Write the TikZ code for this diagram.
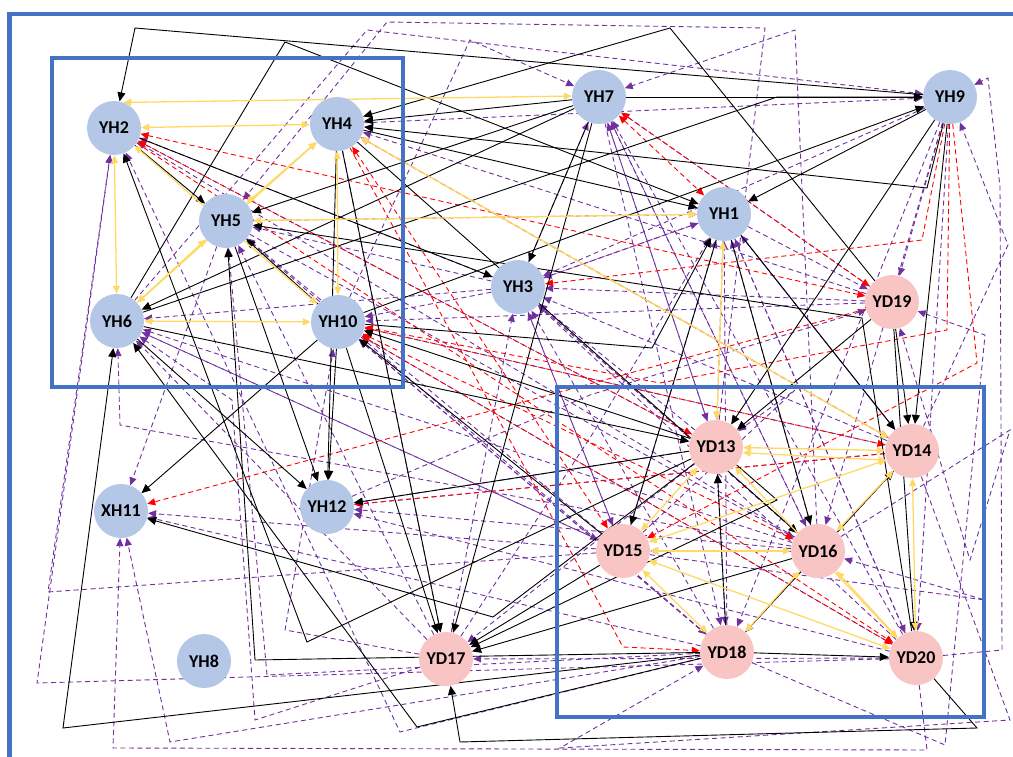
\documentclass[tikz,border=0pt]{standalone}
\usepackage{fontspec}
\setmainfont{Carlito}
\usetikzlibrary{arrows.meta}
\definecolor{nodeblue}{HTML}{B4C7E7}
\definecolor{nodepink}{HTML}{F9C4C4}
\definecolor{framecol}{HTML}{4472C4}
\definecolor{linkyel}{HTML}{FFD966}
\definecolor{linkpur}{HTML}{7030A0}
\definecolor{linkred}{HTML}{FF0000}
\pgfdeclarelayer{edgelayer}
\pgfdeclarelayer{framelayer}
\pgfsetlayers{edgelayer,framelayer,main}
\tikzset{
  hnode/.style={circle,fill=nodeblue,minimum size=54pt,inner sep=0pt,
    font=\bfseries\fontsize{18}{18}\selectfont},
  dnode/.style={hnode,fill=nodepink},
  frame/.style={draw=framecol,line width=4.8pt},
  blk/.style={draw=black,line width=0.9pt,-{Triangle[length=9pt,width=8pt]}},
  yel/.style={draw=linkyel,line width=1.3pt,
    {Triangle[length=8pt,width=7pt]}-{Triangle[length=8pt,width=7pt]}},
  pur/.style={draw=linkpur,line width=0.9pt,dash pattern=on 5pt off 3.5pt,
    -{Triangle[length=8pt,width=7pt]}},
  redl/.style={draw=linkred,line width=0.9pt,dash pattern=on 5pt off 3.5pt,
    -{Triangle[length=8pt,width=7pt]}},
  redb/.style={redl,{Triangle[length=8pt,width=7pt]}-{Triangle[length=8pt,width=7pt]}},
}
\begin{document}
\begin{tikzpicture}[x=1pt,y=-1pt]
\useasboundingbox (0,0) rectangle (1013,757);

% ---- nodes ----
\node[hnode] (YH2)  at (114,128) {YH2};
\node[hnode] (YH4)  at (337,124) {YH4};
\node[hnode] (YH7)  at (599,97)  {YH7};
\node[hnode] (YH9)  at (950,97)  {YH9};
\node[hnode] (YH5)  at (226,221) {YH5};
\node[hnode] (YH1)  at (724,214) {YH1};
\node[hnode] (YH3)  at (518,287) {YH3};
\node[dnode] (YD19) at (892,302) {YD19};
\node[hnode] (YH6)  at (117,321) {YH6};
\node[hnode] (YH10) at (338,322) {YH10};
\node[dnode] (YD13) at (716,447) {YD13};
\node[dnode] (YD14) at (912,451) {YD14};
\node[hnode] (XH11) at (121,511) {XH11};
\node[hnode] (YH12) at (327,507) {YH12};
\node[dnode] (YD15) at (623,551) {YD15};
\node[dnode] (YD16) at (818,551) {YD16};
\node[hnode] (YH8)  at (204,661) {YH8};
\node[dnode] (YD17) at (446,659) {YD17};
\node[dnode] (YD18) at (727,652) {YD18};
\node[dnode] (YD20) at (916,658) {YD20};

% ---- group frames ----
\begin{pgfonlayer}{framelayer}
\draw[frame] (1013,14) -- (9.5,14) -- (9.5,757);
\draw[frame] (52,58) rectangle (403,387);
\draw[frame] (557,387) rectangle (984,717);
\end{pgfonlayer}

\begin{pgfonlayer}{edgelayer}
% ---- purple dashed links ----
\foreach \a/\b in {YD19/YH7,YD13/YH7,YD16/YH7,YD20/YH7,YH3/YH7,
  YD18/YH1,YD16/YH1,YD14/YH1,YD20/YH1,YD15/YH1,YH3/YH1,YH5/YH1,
  YD17/YH3,YD18/YH3,YD16/YH3,YD20/YH3,YD14/YH3,YD13/YH3,YD15/YH3,
  YD19/YH3,YH1/YH3,YH9/YH3,
  YD18/YH5,YD15/YH5,YD17/YH5,YH3/YH5,
  YD13/YH2,YD16/YH2,YH3/YH2,
  YD19/YH4,YD14/YH4,YH4/YH9,
  YD17/YH6,YD15/YH6,YD16/YH6,YH3/YH6,
  YD20/YH10,YD18/YH10,YD14/YH10,YH3/YH10,YD19/YH10,
  YD15/XH11,YD18/XH11,YH5/XH11,
  YD13/YH12,YD16/YH12,YD20/YH12,YD14/YH12,
  YH1/YD13,YH7/YD13,YH9/YD16,YH3/YD15,YH10/YD18,YH9/YD18,YH1/YD20,
  YH5/YD16,YH3/YD16,YH6/YD15,YH9/YD19,YH1/YD19,YH4/YD17,
  YD13/YD17,YD20/YD17,YD16/YD15,YH7/YD18,YH9/YD20,YH7/YD16,
  YD14/YD18,YD13/YD18,YH1/YD14}
  \draw[pur] (\a) -- (\b);
\draw[pur] (YD20) -- (927,750) -- (113,748) -- (XH11);
\draw[pur] (YD18) -- (170,742) -- (XH11);
\draw[pur] (YD20) -- (37,683) -- (YH2);
\draw[pur] (YD15) -- (48,592) -- (YH2);
\draw[pur] (YD18) -- (400,732) -- (YH2);
\draw[pur] (YD13) -- (765,28) -- (387,22) -- (YH5);
\draw[pur] (YD16) -- (795,30) -- (YH7);
\draw[pur] (YH6) -- (367,30) -- (YH9);
\draw[pur] (YH10) -- (470,40) -- (YH7);
\draw[pur] (YD20) -- (1002,650) -- (1000,187) -- (988,78) -- (YH9);
\draw[pur] (YD14) -- (1008,245) -- (YH9);
\draw[pur] (YD16) -- (120,425) -- (YH6);
\draw[pur] (YD18) -- (267,675) -- (YH5);
\draw[pur] (YD17) -- (285,630) -- (YH10);
\draw[pur] (YD14) -- (1010,720) -- (560,748) -- (YD18);
\draw[pur] (YD15) -- (985,600) -- (YD16);
\draw[pur] (YH12) -- (590,395) -- (YD19);
\draw[pur] (YD16) -- (1010,430) -- (970,560) -- (YD19);
\draw[pur] (YD18) -- (945,745) -- (985,335) -- (YD19);
\draw[pur] (YD17) -- (255,720) -- (232,400) -- (YH6);
\draw[pur] (YD15) -- (795,390) -- (YD13);
\draw[pur] (YD17) -- (595,430) -- (YH1);

% ---- red dashed links ----
\draw[redb] (YH7) -- (YH1);
\draw[redb] (YH7) -- (YD19);
\draw[redb] (YH2) -- (YD19);
\draw[redb] (YH2) -- (YD13);
\draw[redb] (YH4) -- (YD14);
\draw[redb] (YH4) -- (YD15);
\draw[redb] (YH10) -- (YD14);
\draw[redb] (YH10) -- (YD16);
\draw[redb] (YH10) -- (YD20);
\draw[redl] (YH9) -- (922,240) -- (YH3);
\draw[redl] (YD19) -- (XH11);
\draw[redl] (YD14) -- (YH12);
\draw[redl] (YH4) -- (623,647) -- (YD18);
\draw[redl] (YH2) -- (YD20);
\draw[redl] (YH9) -- (947,330) -- (660,383) -- (YH10);
\draw[redl] (YH9) -- (977,363) -- (YD15);

% ---- black links ----
\draw[blk] (YH9) -- (135,28) -- (YH2);
\draw[blk] (YD19) -- (670,28) -- (YH4);
\draw[blk] (YH6) -- (285,42) -- (YH1);
\draw[blk] (YH6) -- (777,97) -- (YH9);
\draw[blk] (YH9) -- (927,188) -- (YH4);
\draw[blk] (YD20) -- (862,318) -- (YH5);
\draw[blk] (YD20) -- (977,728) -- (460,742) -- (YD17);
\draw[blk] (YD13) -- (493,617) -- (XH11);
\draw[blk] (YD18) -- (417,727) -- (YH6);
\draw[blk] (YD18) -- (63,728) -- (YH6);
\draw[blk] (YD18) -- (255,660) -- (YH5);
\draw[blk] (YD13) -- (307,642) -- (YH2);
\draw[blk] (YH10) -- (652,348) -- (YH1);
\draw[blk] (YD13) -- (777,500) -- (YD17);
\foreach \a/\b in {YH7/YH4,YH7/YH9,YH9/YH1,YH1/YD14,YD19/YD14,YH9/YD14,
  YD19/YD13,YH9/YD13,YD19/YD20,YH7/YH3,YH7/YD17,YH10/YH9,YH7/YH6,
  YH7/YH5,YH2/YH5,YH2/YH3,YH10/YH5,YH1/YD16,YD13/YH12,YD18/YD13,
  YD18/YD14,YD18/YD20,YH10/XH11,YH4/YH12,YH10/YH12,YH5/YH12,YH6/YH12,
  YH4/YD17,YH10/YD17,YD16/YD17,YD15/YD17,YD13/YH10,YD15/YH10,
  YH4/YH1,YH6/YD13,YH1/YD15,YH4/YD16}
  \draw[blk] (\a) -- (\b);

% ---- yellow two-way links ----
\foreach \a/\b in {YH2/YH4,YH2/YH6,YH2/YH10,YH4/YH5,YH4/YH6,YH4/YH10,
  YH5/YH6,YH6/YH10,YH5/YH1,YH4/YD14,YH1/YD13,YD13/YD14,YD13/YD15,
  YD13/YD20,YD14/YD15,YD14/YD16,YD14/YD20,YD15/YD16,YD15/YD18,
  YD15/YD20,YD16/YD18,YD16/YD20}
  \draw[yel] (\a) -- (\b);
\draw[yel] (YH2.70) -- (YH7.178);
\draw[yel] (YD13.-12) -- (YD14.200);
\end{pgfonlayer}
\end{tikzpicture}
\end{document}
